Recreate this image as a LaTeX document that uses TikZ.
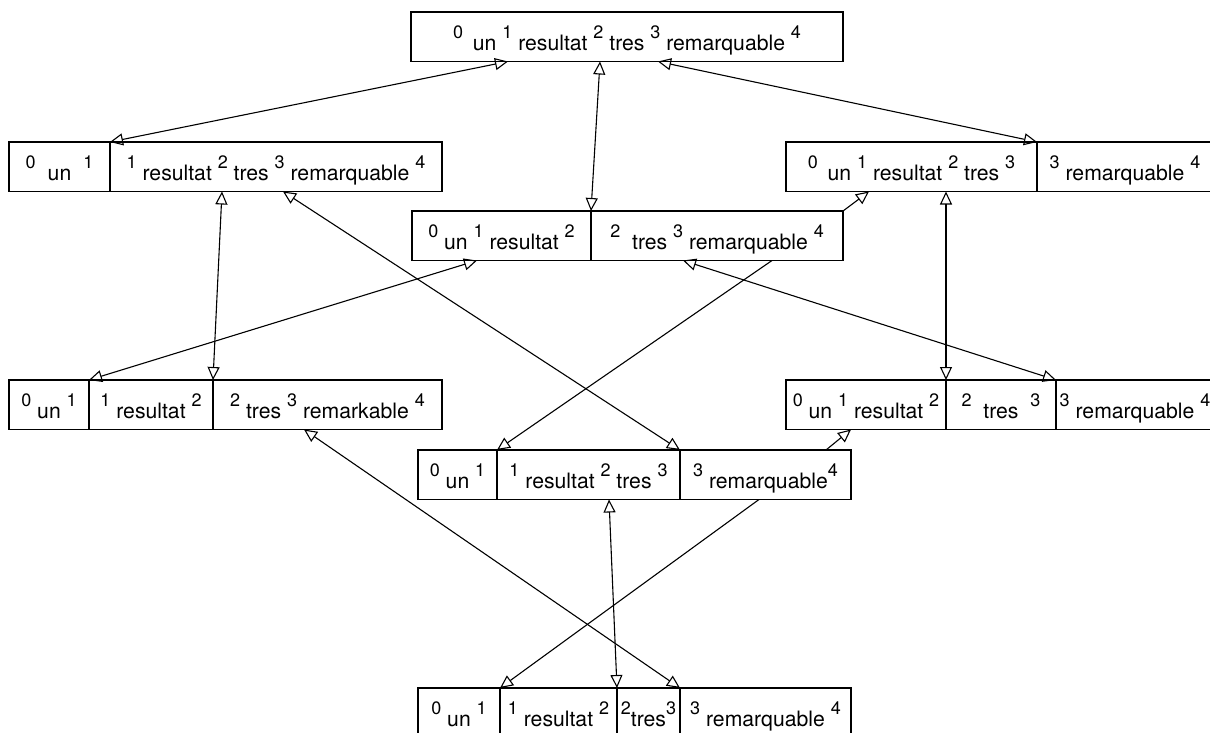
\documentclass[tikz,border=0pt]{standalone}
\usepackage{fontspec}
\setmainfont{TeX Gyre Heros}
\usetikzlibrary{arrows.meta,positioning,calc}
\newcommand{\ix}[1]{\raisebox{0.55em}{\fontsize{9}{10}\selectfont #1}}

\begin{document}
\begin{tikzpicture}[
  x=0.5pt, y=-0.5pt,
  node distance=0pt,
  font=\fontsize{10.6}{12}\selectfont,
  cell/.style={draw, line width=0.65pt, inner sep=0pt, outer sep=0pt, minimum height=24.75pt, text height=13.5pt, text depth=0pt},
  w/.style={minimum width=#1*0.5pt},
  arr/.style={-{Triangle[open,length=6.5pt,width=6pt]}, line width=0.55pt},
  darr/.style={{Triangle[open,length=6.5pt,width=6pt]}-{Triangle[open,length=6.5pt,width=6pt]}, line width=0.55pt}
]
\useasboundingbox (0,0) rectangle (1210,733);
\clip (0,0) rectangle (1210,733);

% top
\node[cell, w=432, anchor=north west] (top) at (411,12) {\ix{0}\hspace{2pt} un \ix{1} resultat \ix{2} tres \ix{3} remarquable \ix{4}};

% row 2
\node[cell, w=101, anchor=north west] (r2l-1) at (9,142) {\ix{0}\hspace{6pt}un\hspace{6pt}\ix{1}};
\node[cell, w=332, right=of r2l-1] (r2l-2) {\ix{1} resultat \ix{2} tres \ix{3} remarquable \ix{4}};
\node[cell, w=251, anchor=north west] (r2r-1) at (786,142) {\ix{0}\hspace{2pt} un \ix{1} resultat \ix{2} tres \ix{3}};
\node[cell, w=176, right=of r2r-1] (r2r-2) {\ix{3} remarquable \ix{4}};

% row 3
\node[cell, w=179, anchor=north west] (r3-1) at (412,211) {\ix{0} un \ix{1} resultat \ix{2}};
\node[cell, w=252, right=of r3-1] (r3-2) {\ix{2}\hspace{3pt} tres \ix{3} remarquable \ix{4}};

% row 4
\node[cell, w=80, anchor=north west] (r4l-1) at (9,380) {\ix{0} un \ix{1}};
\node[cell, w=124, right=of r4l-1] (r4l-2) {\ix{1} resultat \ix{2}};
\node[cell, w=229, right=of r4l-2] (r4l-3) {\ix{2} tres \ix{3} remarkable \ix{4}};
\node[cell, w=160, anchor=north west] (r4r-1) at (786,380) {\ix{0} un \ix{1} resultat \ix{2}};
\node[cell, w=110, right=of r4r-1] (r4r-2) {\ix{2}\hspace{3pt} tres\hspace{3pt} \ix{3}};
\node[cell, w=158, right=of r4r-2] (r4r-3) {\ix{3} remarquable \ix{4}};

% row 5
\node[cell, w=79, anchor=north west] (r5-1) at (418,450) {\ix{0} un \ix{1}};
\node[cell, w=183, right=of r5-1] (r5-2) {\ix{1} resultat \ix{2} tres \ix{3}};
\node[cell, w=171, right=of r5-2] (r5-3) {\ix{3} remarquable\ix{4}};

% bottom
\node[cell, w=82, anchor=north west] (bot-1) at (418,688) {\ix{0} un \ix{1}};
\node[cell, w=117, right=of bot-1] (bot-2) {\ix{1} resultat \ix{2}};
\node[cell, w=63, right=of bot-2] (bot-3) {\ix{2}tres\ix{3}};
\node[cell, w=171, right=of bot-3] (bot-4) {\ix{3} remarquable \ix{4}};

% connectors
\draw[darr] ($(top.south west)+(97,0)$) -- (r2l-1.north east);
\draw[darr] ($(top.south west)+(189,0)$) -- (r3-1.north east);
\draw[darr] ($(top.south west)+(247,0)$) -- (r2r-1.north east);
\draw[darr] ($(r2l-2.south west)+(112,0)$) -- (r4l-2.north east);
\draw[darr] ($(r2l-2.south west)+(173,0)$) -- (r5-2.north east);
\draw[arr] (r3-2.north east) -- ($(r2r-1.south west)+(83,0)$);
\draw[darr] ($(r2r-1.south west)+(160,0)$) -- (r4r-1.north east);
\draw[darr] ($(r3-1.south west)+(65,0)$) -- (r4l-1.north east);
\draw[darr] ($(r3-2.south west)+(92,0)$) -- (r4r-2.north east);
\draw[arr] ($(r3-2.south west)+(181,0)$) -- (r5-1.north east);
\draw[darr] ($(r4l-3.south west)+(91,0)$) -- (bot-3.north east);
\draw[arr] ($(r5-3.north west)+(146,0)$) -- ($(r4r-1.south west)+(65,0)$);
\draw[darr] ($(r5-2.south west)+(112,0)$) -- (bot-2.north east);
\draw[arr] ($(r5-3.south west)+(79,0)$) -- (bot-1.north east);
\end{tikzpicture}
\end{document}
